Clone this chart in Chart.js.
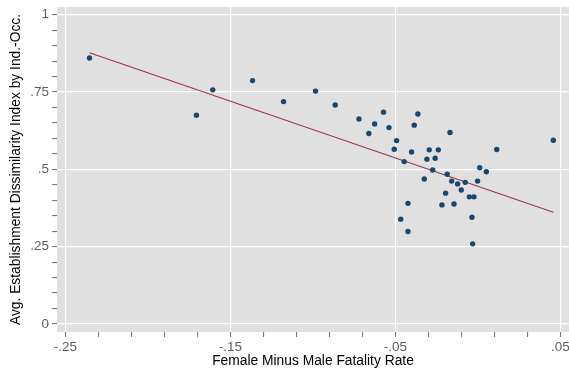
<!DOCTYPE html>
<html>
<head>
<meta charset="utf-8">
<script src="https://cdn.jsdelivr.net/npm/chart.js@4.4.1/dist/chart.umd.min.js"></script>
<style>
  html, body { margin: 0; padding: 0; background: #fff; overflow: hidden; }
  #wrap { width: 569px; height: 371px; }
  canvas { display: block; }
</style>
</head>
<body>
<div id="wrap"><canvas id="scatter"></canvas></div>
<script>
// fatality rate gap (female minus male) vs. avg. establishment dissimilarity index
const gapX = [
    -0.2354, -0.1706, -0.1607, -0.1366, -0.1178, -0.0984, -0.0865, -0.0721, -0.0661, -0.0626,
    -0.0572, -0.0539, -0.0493, -0.0507, -0.0447, -0.0468, -0.0424, -0.0424, -0.0402, -0.0386,
    -0.0364, -0.0325, -0.0309, -0.0295, -0.0274, -0.0259, -0.0240, -0.0218, -0.0196, -0.0186,
    -0.0169, -0.0159, -0.0145, -0.0123, -0.0101, -0.0077, -0.0052, -0.0036, -0.0032, -0.0024,
    -0.0002, 0.0011, 0.0051, 0.0114, 0.0457
];
const dissimY = [
    0.860, 0.675, 0.757, 0.787, 0.719, 0.753, 0.708, 0.663, 0.616, 0.647,
    0.685, 0.635, 0.593, 0.565, 0.525, 0.339, 0.390, 0.299, 0.556, 0.643,
    0.679, 0.469, 0.533, 0.563, 0.498, 0.536, 0.563, 0.385, 0.423, 0.484,
    0.619, 0.462, 0.388, 0.453, 0.433, 0.458, 0.411, 0.345, 0.259, 0.411,
    0.462, 0.505, 0.492, 0.564, 0.594
];

// linear fit, ends of the line
const fitX = [-0.2354, 0.0457];
const fitY = [0.877, 0.361];

const xTicks = [-0.25, -0.23, -0.21, -0.19, -0.17, -0.15, -0.13, -0.11, -0.09, -0.07,
                -0.05, -0.03, -0.01, 0.01, 0.03, 0.05];
const xMajor = [-0.25, -0.15, -0.05, 0.05];
const yTicks = [0, 0.05, 0.1, 0.15, 0.2, 0.25, 0.3, 0.35, 0.4, 0.45, 0.5,
                0.55, 0.6, 0.65, 0.7, 0.75, 0.8, 0.85, 0.9, 0.95, 1];
const yMajor = [0, 0.25, 0.5, 0.75, 1];

const FONT = "'Liberation Sans', Arial, sans-serif";

function isMajor(list, v) {
    return list.some(m => Math.abs(m - v) < 1e-6);
}

// stata style numbers: -.25, .5, 0, 1
function fmt(v) {
    let s = parseFloat(v.toFixed(2)).toString();
    return s.replace(/^(-?)0\./, "$1.");
}

const plotBg = {
    id: 'plotBg',
    beforeDraw(chart) {
        const a = chart.chartArea, ctx = chart.ctx;
        ctx.save();
        ctx.fillStyle = '#e0e0e0';
        ctx.fillRect(a.left, a.top, a.right - a.left, a.bottom - a.top);
        ctx.restore();
    }
};

Chart.defaults.font.family = FONT;

new Chart(document.getElementById('scatter'), {
    type: 'scatter',
    data: {
        datasets: [{
            data: gapX.map((x, i) => ({x: x, y: dissimY[i]})),
            backgroundColor: '#1a476f',
            borderColor: '#1a476f',
            pointRadius: 2.7,
            borderWidth: 0,
            order: 1
        }, {
            type: 'line',
            data: fitX.map((x, i) => ({x: x, y: fitY[i]})),
            borderColor: '#983a42',
            borderWidth: 1.1,
            pointRadius: 0,
            fill: false,
            order: 2
        }]
    },
    options: {
        responsive: true,
        maintainAspectRatio: false,
        animation: false,
        layout: {autoPadding: false, padding: {top: 7, right: 0, left: 0, bottom: 0}},
        plugins: {legend: {display: false}, tooltip: {enabled: false}},
        scales: {
            x: {
                type: 'linear',
                min: -0.2551,
                max: 0.0552,
                border: {display: false},
                afterBuildTicks: axis => { axis.ticks = xTicks.map(v => ({value: v})); },
                afterFit: axis => {
                    axis.height = 39;
                    axis.paddingLeft = 0;
                    axis.paddingRight = 0;
                },
                grid: {
                    color: c => isMajor(xMajor, c.tick.value) ? '#ffffff' : 'rgba(0,0,0,0)',
                    tickColor: '#6e6e6e',
                    lineWidth: 1.2,
                    tickWidth: 1,
                    tickLength: 5
                },
                ticks: {
                    autoSkip: false,
                    maxRotation: 0,
                    padding: 2,
                    color: '#5e5e5e',
                    font: {size: 13.5},
                    callback: v => isMajor(xMajor, v) ? fmt(v) : ''
                },
                title: {
                    display: true,
                    text: 'Female Minus Male Fatality Rate',
                    color: '#000',
                    font: {size: 13.8},
                    padding: {top: 0, bottom: 2}
                }
            },
            y: {
                type: 'linear',
                min: -0.026,
                max: 1.025,
                border: {display: false},
                afterBuildTicks: axis => { axis.ticks = yTicks.map(v => ({value: v})); },
                afterFit: axis => {
                    axis.width = 57;
                    axis.paddingTop = 0;
                    axis.paddingBottom = 0;
                },
                grid: {
                    color: c => isMajor(yMajor, c.tick.value) ? '#ffffff' : 'rgba(0,0,0,0)',
                    tickColor: '#6e6e6e',
                    lineWidth: 1.2,
                    tickWidth: 1,
                    tickLength: 5
                },
                ticks: {
                    autoSkip: false,
                    padding: 3,
                    color: '#5e5e5e',
                    font: {size: 13.5},
                    callback: v => isMajor(yMajor, v) ? fmt(v) : ''
                },
                title: {
                    display: true,
                    text: 'Avg. Establishment Dissimilarity Index by Ind.-Occ.',
                    color: '#000',
                    font: {size: 13.8},
                    padding: {top: 8, bottom: 0}
                }
            }
        }
    },
    plugins: [plotBg]
});
</script>
</body>
</html>
